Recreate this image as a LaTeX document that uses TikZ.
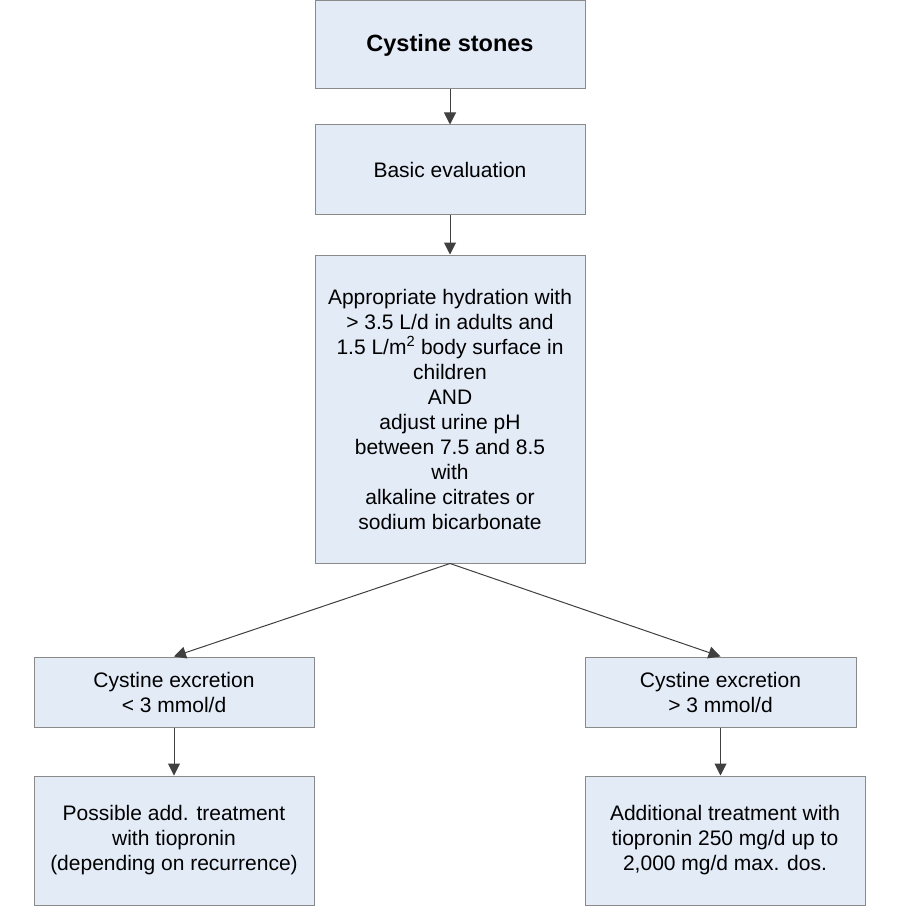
\documentclass[tikz,border=0pt]{standalone}
\usepackage{fontspec}
\setmainfont{Liberation Sans}
\usetikzlibrary{arrows.meta}
\definecolor{boxfill}{HTML}{E3EBF7}
\definecolor{boxline}{HTML}{8A8A8A}
\definecolor{arr}{HTML}{404040}
\tikzset{
  box/.style={draw=boxline, line width=1pt, fill=boxfill, inner sep=0pt, align=center,
    font=\fontsize{21}{25}\selectfont, text=black},
  conn/.style={draw=arr, line width=1pt, -{Triangle[width=12pt,length=12pt]}},
}
\begin{document}
\begin{tikzpicture}[x=1pt,y=-1pt]
\useasboundingbox[fill=white] (0,0) rectangle (900,920);
\node[box, minimum width=270pt, minimum height=88pt, font=\fontsize{23.5}{25}\bfseries\selectfont] (top) at (450,45) {Cystine stones};
\node[box, minimum width=270pt, minimum height=89pt] (eval) at (450,169.5) {Basic evaluation};
\node[box, minimum width=270pt, minimum height=308pt] (hyd) at (450,409) {Appropriate hydration with\\ {>} 3.5 L/d in adults and\\ 1.5 L/m\textsuperscript{2} body surface in\\ children\\ AND\\ adjust urine pH\\ between 7.5 and 8.5\\ with\\ alkaline citrates or\\ sodium bicarbonate};
\node[box, minimum width=280pt, minimum height=70pt] (low) at (174,692) {Cystine excretion\\ {<} 3 mmol/d};
\node[box, minimum width=271pt, minimum height=70pt] (high) at (720.5,692) {Cystine excretion\\ {>} 3 mmol/d};
\node[box, minimum width=280pt, minimum height=129pt] (poss) at (174,840.5) {Possible add. treatment\\ with tiopronin\\ (depending on recurrence)};
\node[box, minimum width=280pt, minimum height=129pt] (addt) at (725,840.5) {Additional treatment with\\ tiopronin 250 mg/d up to\\ 2,000 mg/d max. dos.};
\draw[conn] (top.south) -- (eval.north);
\draw[conn] (eval.south) -- (hyd.north);
\draw[conn] (hyd.south) -- (low.north);
\draw[conn] (hyd.south) -- (high.north);
\draw[conn] (low.south) -- (poss.north -| low.south);
\draw[conn] (high.south) -- (addt.north -| high.south);
\end{tikzpicture}
\end{document}
